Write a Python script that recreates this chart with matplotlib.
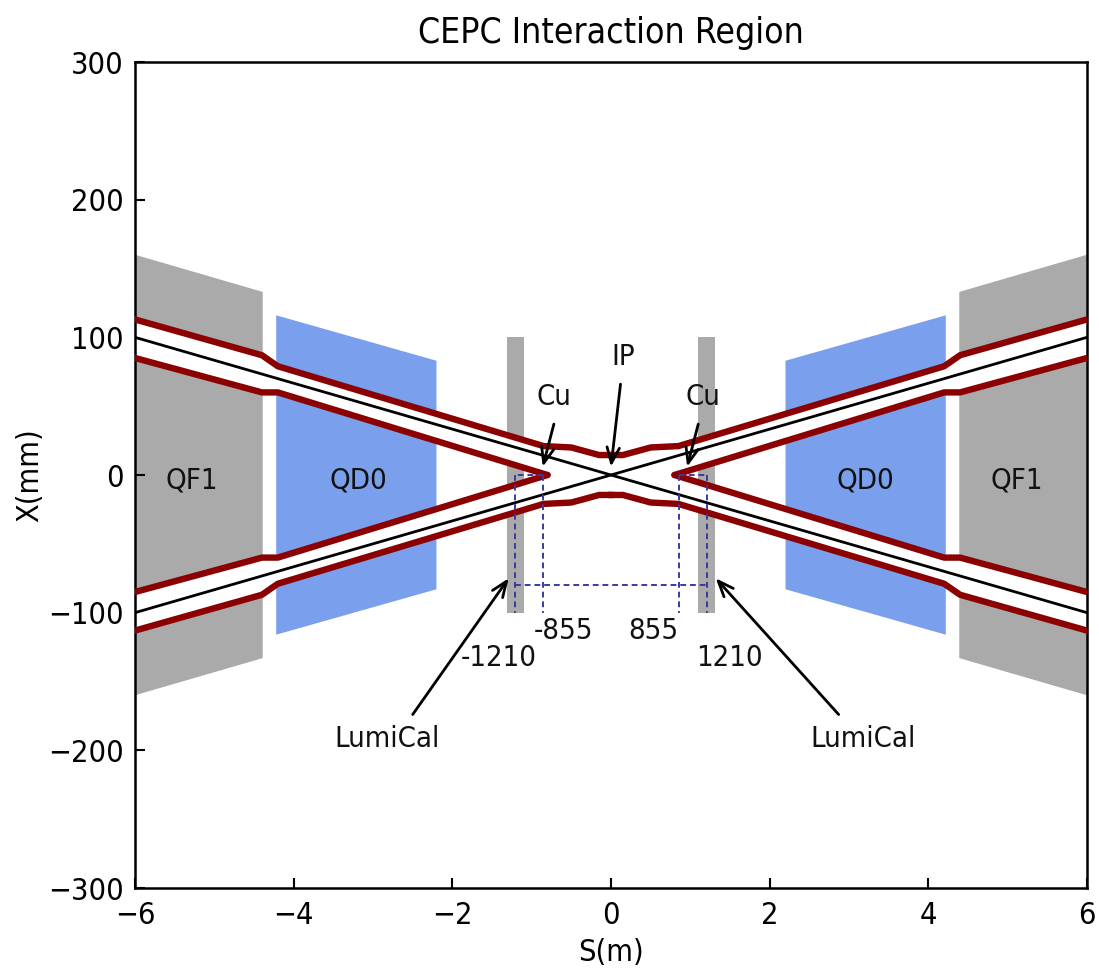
import matplotlib
matplotlib.use('Agg')
import matplotlib.pyplot as plt
from matplotlib.patches import Polygon

plt.rcParams['font.family'] = ['DejaVu Sans']
plt.rcParams['font.stretch'] = 'condensed'

# magnets, S in m and half aperture X in mm
qf1_s = [4.39, 6.0]
qf1_x = [133, 160]
qd0_s = [2.2, 4.22]
qd0_x = [83, 116]
lumi_s = [1.1, 1.31]
lumi_x = 100

# beam pipe walls for one arm
outer_s = [0.0, 0.15, 0.5, 0.85, 4.2, 4.4, 6.0]
outer_x = [14.5, 14.5, 20, 21, 79, 87, 113]
inner_s = [0.8, 4.2, 4.4, 6.0]
inner_x = [0.0, 60, 60, 85]

beam_s = [-6, 6]
beam_x = [100, -100]

dash_near = 0.855
dash_far = 1.21
dash_low = -100
dash_bar = -80

arrow_tails = [(0.12, 66), (-0.72, 37), (1.1, 37), (-2.5, -174), (2.87, -174)]
arrow_heads = [(0.0, 6), (-0.86, 6), (0.96, 6), (-1.29, -75), (1.32, -75)]

labels = ['QF1', 'QD0', 'QD0', 'QF1', 'IP', 'Cu', 'Cu', '-855', '855', '-1210', '1210', 'LumiCal', 'LumiCal']
label_s = [-5.28, -3.19, 3.21, 5.12, 0.15, -0.72, 1.16, -0.6, 0.53, -1.41, 1.49, -2.82, 3.18]
label_x = [-4, -4, -4, -4, 86, 57, 57, -113, -113, -133, -133, -192, -192]

grey = '#aaaaaa'
blue = '#7a9fec'
red = '#8b0000'

fig = plt.figure(figsize=(10.99, 9.72), dpi=100)
ax = fig.add_axes([135/1099, 1-888/972, (1087-135)/1099, (888-62)/972])

for sx in (1, -1):
    s0, s1 = qf1_s
    ax.add_patch(Polygon([(sx*s0, qf1_x[0]), (sx*s1, qf1_x[1]), (sx*s1, -qf1_x[1]), (sx*s0, -qf1_x[0])],
                         fc=grey, ec='none', zorder=1))
    s0, s1 = qd0_s
    # QD0 is wider towards the QF1 side
    ax.add_patch(Polygon([(sx*s0, qd0_x[0]), (sx*s1, qd0_x[1]), (sx*s1, -qd0_x[1]), (sx*s0, -qd0_x[0])],
                         fc=blue, ec='none', zorder=1))
    s0, s1 = lumi_s
    ax.add_patch(Polygon([(sx*s0, lumi_x), (sx*s1, lumi_x), (sx*s1, -lumi_x), (sx*s0, -lumi_x)],
                         fc=grey, ec='none', zorder=1))

    for sy in (1, -1):
        band = [(sx*a, sy*b) for a, b in zip(outer_s, outer_x)]
        band += [(sx*a, sy*b) for a, b in zip(inner_s[::-1], inner_x[::-1])]
        band += [(0, 0)]
        ax.add_patch(Polygon(band, fc='white', ec='none', zorder=2))
        ax.plot([sx*a for a in outer_s], [sy*b for b in outer_x], color=red, lw=4.6, zorder=3,
                solid_joinstyle='round')
        ax.plot([sx*a for a in inner_s], [sy*b for b in inner_x], color=red, lw=4.6, zorder=3,
                solid_joinstyle='round', solid_capstyle='round')

ax.plot(beam_s, beam_x, color='black', lw=2, zorder=4)
ax.plot(beam_s, beam_x[::-1], color='black', lw=2, zorder=4)

dash = dict(color='#3a3aa0', lw=1.4, ls=(0, (3, 2)), zorder=5)
for sx in (1, -1):
    ax.plot([sx*dash_near, sx*dash_near], [0, dash_low], **dash)
    ax.plot([sx*dash_far, sx*dash_far], [0, dash_low], **dash)
    ax.plot([sx*dash_near, sx*dash_far], [0, 0], **dash)
ax.plot([-dash_far, dash_far], [dash_bar, dash_bar], **dash)

for tail, head in zip(arrow_tails, arrow_heads):
    ax.annotate('', xy=head, xytext=tail, zorder=6,
                arrowprops=dict(arrowstyle='->,head_length=0.4,head_width=0.16', color='black', lw=2,
                                mutation_scale=28, shrinkA=0, shrinkB=0))

for t, a, b in zip(labels, label_s, label_x):
    ax.text(a, b, t, fontsize=21, ha='center', va='center', color='#111111', zorder=7)

ax.set_xlim(-6, 6)
ax.set_ylim(-300, 300)
ax.set_xticks(range(-6, 7, 2))
ax.set_yticks(range(-300, 301, 100))
ax.tick_params(direction='in', length=7, width=1.5, labelsize=22)
ax.tick_params(axis='x', pad=9)
ax.tick_params(axis='y', pad=8)
for sp in ax.spines.values():
    sp.set_linewidth(1.8)
ax.set_xlabel('S(m)', fontsize=22, labelpad=6)
ax.set_ylabel('X(mm)', fontsize=22, labelpad=3)
ax.set_title('CEPC Interaction Region', fontsize=25.5, pad=14)

fig.savefig('out.png', dpi=100)
